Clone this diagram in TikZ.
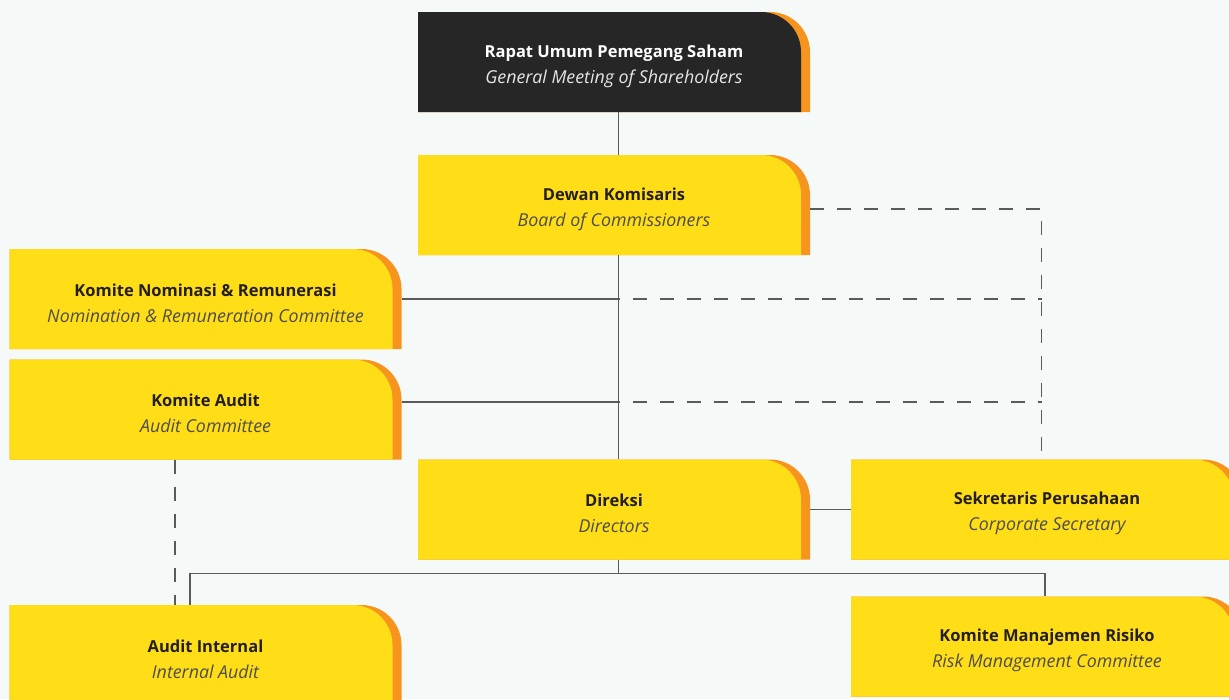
\documentclass[tikz,border=0pt]{standalone}
\usepackage{fontspec}
\setmainfont{Open Sans}
\usetikzlibrary{positioning,calc}

\definecolor{pagebg}{HTML}{F5FAF8}
\definecolor{boxyellow}{HTML}{FFDD17}
\definecolor{boxorange}{HTML}{F7941D}
\definecolor{boxdark}{HTML}{262626}
\definecolor{linegrey}{HTML}{5A5A5A}
\definecolor{textdark}{HTML}{231F20}
\definecolor{textgrey}{HTML}{4D4D4D}
\definecolor{textlight}{HTML}{E6E6E6}

\newcommand{\orglabel}[3][textgrey]{\textbf{\rule{0pt}{21pt}#2}\\
  \textcolor{#1}{\fontsize{17.8}{26}\selectfont\itshape #3}}

\tikzset{
  orgbox/.style={minimum width=392pt, minimum height=100pt, inner sep=0pt,
    align=center, font=\fontsize{16.5}{26}\selectfont, text=textdark,
    path picture={
      \coordinate (pbsw) at (path picture bounding box.south west);
      \coordinate (pbne) at (path picture bounding box.north east);
      \fill[boxorange] (pbsw) |- ($(pbne)+(-40pt,0)$)
        arc[start angle=90,end angle=0,radius=40pt] |- (pbsw);
      \fill[#1] (pbsw) |- ($(pbne)+(-49pt,0)$)
        arc[start angle=90,end angle=0,radius=40pt] |- (pbsw);
    }},
  orgbox/.default=boxyellow,
  conn/.style={draw=linegrey, line width=1.2pt},
  dashconn/.style={conn, dash pattern=on 14pt off 13pt, dash phase=13pt}
}

\begin{document}
\begin{tikzpicture}[x=1pt,y=-1pt]
  \fill[pagebg] (0,0) rectangle (1229,699);
  \useasboundingbox (0,0) rectangle (1229,699);

  \coordinate (spine) at (618.5,0);
  \coordinate (dashx) at (1041.5,0);
  \coordinate (auditx) at (175,0);
  \coordinate (busl) at (190,573.5);
  \coordinate (busr) at (1045,573.5);

  \node[orgbox=boxdark, text=white] (rups) at (614,62)
    {\orglabel[textlight]{Rapat Umum Pemegang Saham}{General Meeting of Shareholders}};
  \node[orgbox] (dekom) at (614,205)
    {\orglabel{Dewan Komisaris}{Board of Commissioners}};
  \node[orgbox] (nomrem) at (205.5,299)
    {\orglabel{Komite Nominasi \& Remunerasi}{Nomination \& Remuneration Committee}};
  \node[orgbox] (audcom) at (205.5,409.5)
    {\orglabel{Komite Audit}{Audit Committee}};
  \node[orgbox] (direksi) at (614,509.5)
    {\orglabel{Direksi}{Directors}};
  \node[orgbox] (corsec) at (1047,509.5)
    {\orglabel{Sekretaris Perusahaan}{Corporate Secretary}};
  \node[orgbox] (intaudit) at (205.5,655)
    {\orglabel{Audit Internal}{Internal Audit}};
  \node[orgbox] (riskcom) at (1047,646.5)
    {\orglabel{Komite Manajemen Risiko}{Risk Management Committee}};

  \coordinate (dekomlink) at ([yshift=-4pt]dekom.east);
  \coordinate (audlink) at ([yshift=7.5pt]audcom.east);

  \draw[conn] (rups.south -| spine) -- (dekom.north -| spine);
  \draw[conn] (dekom.south -| spine) -- (direksi.north -| spine);
  \draw[conn] (nomrem.east) -- (nomrem.east -| spine);
  \draw[conn] (audlink) -- (audlink -| spine);
  \draw[conn] (direksi.east) -- (corsec.west);
  \draw[conn] (direksi.south -| spine) -- (spine |- busl);
  \draw[conn] (intaudit.north -| busl) -- (busl) -- (busr) -- (riskcom.north -| busr);

  \draw[dashconn, dash phase=0pt] (dekomlink) -| (corsec.north -| dashx);
  \draw[dashconn] (nomrem.east -| spine) -- (nomrem.east -| dashx);
  \draw[dashconn] (audlink -| spine) -- (audlink -| dashx);
  \draw[dashconn, dash phase=0pt] (audcom.south -| auditx) -- (intaudit.north -| auditx);
\end{tikzpicture}
\end{document}
